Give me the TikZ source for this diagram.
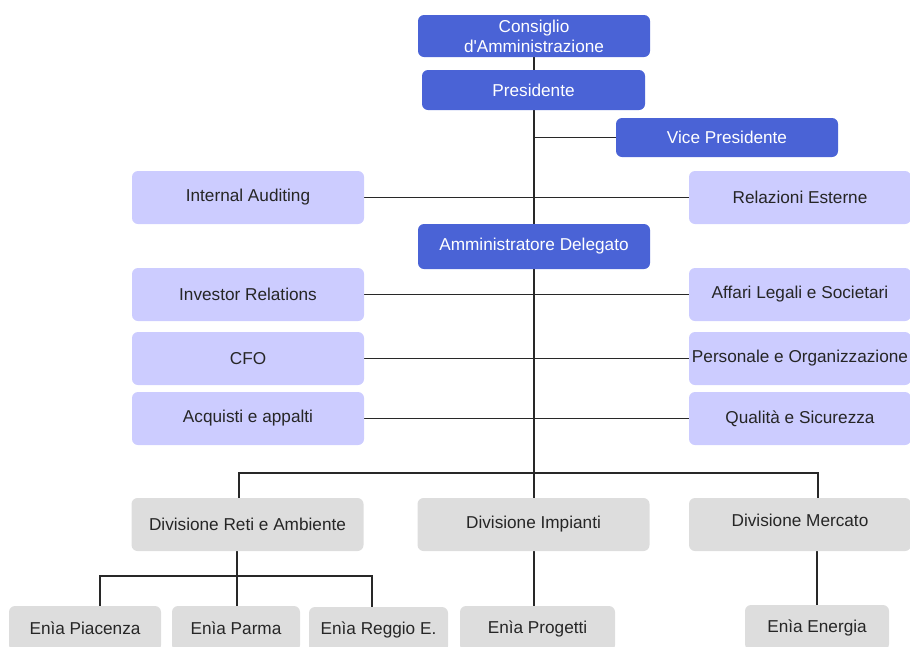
\documentclass[tikz,border=0pt]{standalone}
\usepackage{fontspec}
\setmainfont{Liberation Sans}
\usepackage{xcolor}
\definecolor{enblue}{RGB}{74,99,214}
\definecolor{enlilac}{RGB}{204,204,255}
\definecolor{engrey}{RGB}{221,221,221}
\definecolor{enline}{RGB}{40,40,40}
\usetikzlibrary{backgrounds}

\begin{document}
\begin{tikzpicture}[x=1pt,y=-1pt,
  box/.style={rectangle,rounded corners=6pt,inner sep=0pt,align=center,
    font=\fontsize{17.2}{20}\selectfont},
  board/.style={box,fill=enblue,text=white,minimum width=232pt},
  staff/.style={box,fill=enlilac,text=black!85,minimum width=232pt,minimum height=53pt},
  division/.style={box,fill=engrey,text=black!85,minimum width=232pt,minimum height=53pt},
  company/.style={box,fill=engrey,text=black!85,minimum height=45pt},
  org connection/.style={draw=enline,line width=1.3pt}]
  \useasboundingbox (0,0) rectangle (910,646);
  \clip (0,0) rectangle (910,646);

  % vertici
  \node[board,minimum height=42pt] (cda) at (534,36) {Consiglio\\d\textquotesingle Amministrazione};
  \node[board,minimum width=223pt,minimum height=40pt] (pres) at (533.5,90) {Presidente};
  \node[board,minimum width=222pt,minimum height=39pt] (vice) at (727,137.5) {Vice Presidente};
  \node[board,minimum height=45pt] (ad) at (534,246.5) {Amministratore Delegato};

  % staff
  \node[staff] (audit) at (248,197.5) {Internal Auditing};
  \node[staff,minimum width=222pt] (relest) at (800,197.5) {Relazioni Esterne};
  \node[staff] (investor) at (248,294.5) {Investor Relations};
  \node[staff,minimum width=222pt] (affari) at (800,294.5) {Affari Legali e Societari};
  \node[staff] (cfo) at (248,358.5) {CFO};
  \node[staff,minimum width=222pt] (personale) at (800,358.5) {Personale e Organizzazione};
  \node[staff] (acquisti) at (248,418.5) {Acquisti e appalti};
  \node[staff,minimum width=222pt] (qualita) at (800,418.5) {Qualità e Sicurezza};

  % divisioni
  \node[division] (reti) at (247.5,524.5) {Divisione Reti e Ambiente};
  \node[division] (impianti) at (533.5,524.5) {Divisione Impianti};
  \node[division,minimum width=222pt,text depth=8pt] (mercato) at (800,524.5) {Divisione Mercato};

  % societa
  \node[company,minimum width=152pt] (piacenza) at (85,628.5) {Enìa Piacenza};
  \node[company,minimum width=128pt] (parma) at (236,628.5) {Enìa Parma};
  \node[company,minimum width=139pt] (reggio) at (378.5,629.5) {Enìa Reggio E.};
  \node[company,minimum width=155pt] (progetti) at (537.5,628.5) {Enìa Progetti};
  \node[company,minimum width=144pt] (energia) at (817,627.5) {Enìa Energia};

  \coordinate (busw) at (239,473);
  \coordinate (buse) at (818,473);
  \coordinate (subw) at (100,576);
  \coordinate (sube) at (372,576);
  \coordinate (subj) at (237,576);

  \begin{pgfonlayer}{background}
    \draw[org connection] (cda.south) -- (cda.south |- busw);
    \draw[org connection] (vice.west) -- (vice.west -| cda.south);
    \draw[org connection] (audit.east) -- (relest.west);
    \draw[org connection] (investor.east) -- (affari.west);
    \draw[org connection] (cfo.east) -- (personale.west);
    \draw[org connection] (acquisti.east) -- (qualita.west);

    \draw[org connection] (busw |- reti.north) -- (busw) -- (buse) -- (buse |- mercato.north);
    \draw[org connection] (impianti.north -| cda.south) -- (cda.south |- busw);

    \draw[org connection] (subj |- reti.south) -- (subj) -- (subj |- parma.north);
    \draw[org connection] (subw |- piacenza.north) -- (subw) -- (sube) -- (sube |- reggio.north);
    \draw[org connection] (impianti.south -| cda.south) -- (cda.south |- progetti.north);
    \draw[org connection] (mercato.south -| energia.north) -- (energia.north);
  \end{pgfonlayer}
\end{tikzpicture}
\end{document}
